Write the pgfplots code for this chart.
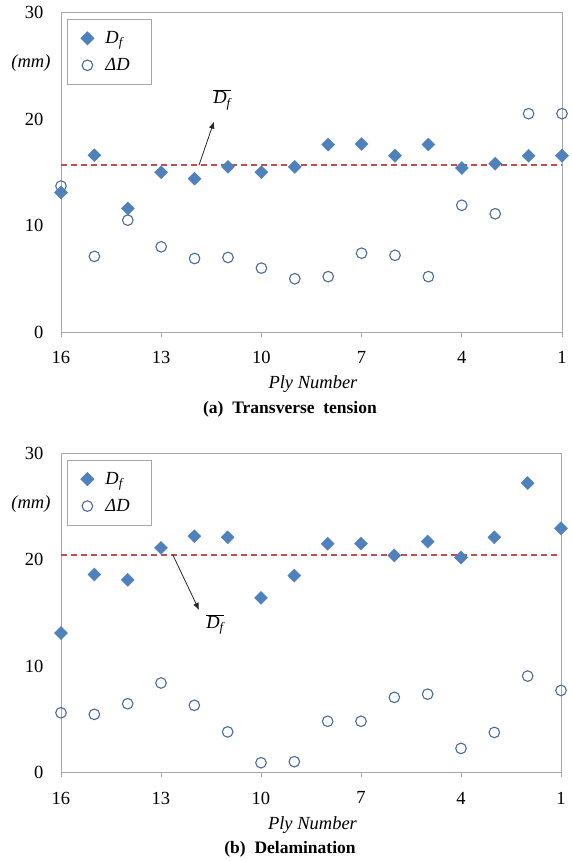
\documentclass[border=0pt]{standalone}
\usepackage{fontspec}
\setmainfont{Liberation Serif}
\usepackage{pgfplots}
\pgfplotsset{compat=1.18}
\usepackage{pgfplotstable}
\usetikzlibrary{arrows.meta}

\definecolor{dfblue}{HTML}{4F81BD}
\definecolor{ddblue}{HTML}{4A6A9C}
\definecolor{meanred}{HTML}{C0504D}
\definecolor{framegray}{HTML}{A6A6A6}

\newcommand{\fs}{\fontsize{18.5pt}{21pt}\selectfont}
\newcommand{\cs}{\fontsize{17.5pt}{20pt}\selectfont}
\newcommand{\Df}{\textit{D\textsubscript{f}}}

% transverse tension
\pgfplotstableread{
ply Df dD
16 13.1 13.7
15 16.6 7.1
14 11.6 10.5
13 15.0 8.0
12 14.4 6.9
11 15.5 7.0
10 15.0 6.0
9 15.5 5.0
8 17.6 5.2
7 17.65 7.4
6 16.55 7.2
5 17.6 5.2
4 15.4 11.9
3 15.8 11.1
2 16.55 20.5
1 16.55 20.5
}\tablea

% delamination
\pgfplotstableread{
ply Df dD
16 13.1 5.6
15 18.6 5.45
14 18.1 6.45
13 21.1 8.4
12 22.2 6.3
11 22.1 3.8
10 16.4 0.9
9 18.5 1.0
8 21.5 4.8
7 21.5 4.8
6 20.4 7.05
5 21.7 7.35
4 20.2 2.25
3 22.1 3.75
2 27.2 9.05
1 22.95 7.7
}\tableb

\pgfplotsset{
  plyaxis/.style={
    scale only axis,
    x dir=reverse, xmin=1, xmax=16, ymin=0, ymax=30,
    xtick={16,13,10,7,4,1}, ytick={0,10,20,30},
    axis line style={framegray, line width=0.8pt},
    tick align=outside, xtick pos=bottom, ytick pos=left,
    ytick style={draw=none},
    xtick style={framegray, line width=0.8pt},
    major tick length=5pt,
    /pgf/number format/assume math mode=true,
    tick label style={font=\fs},
    xticklabel style={yshift=-11pt},
    yticklabel style={xshift=-9pt},
    clip=false,
    legend cell align=left,
    legend style={at={(rel axis cs:0.012,0.98)}, anchor=north west,
      draw=framegray, line width=0.8pt, font=\fs, inner xsep=2pt, inner ysep=8pt,
      row sep=5pt},
    legend image code/.code={
      \path[draw=none, fill=none] (-18pt,-11pt) rectangle (16pt,11pt);
      \draw plot coordinates {(0pt,0pt)};},
  },
  dfmark/.style={only marks, mark=square*, mark size=4.6pt,
    mark options={rotate=45, fill=dfblue, draw=dfblue}},
  ddmark/.style={only marks, mark=o, mark size=5.3pt,
    mark options={draw=ddblue, line width=1.1pt}},
  meanline/.style={meanred, line width=2pt, dash pattern=on 6pt off 4pt},
}

\begin{document}
\begin{tikzpicture}
\path[use as bounding box] (0,0) rectangle (572pt,-861pt);

\begin{axis}[plyaxis, at={(61pt,-332pt)}, anchor=south west,
    width=501pt, height=319.5pt]
  \addlegendimage{dfmark}\addlegendentry{\Df}
  \addlegendimage{ddmark}\addlegendentry{\textit{ΔD}\hspace*{18pt}\mbox{}}
  \addplot[meanline, forget plot] coordinates {(16,15.65) (1,15.65)};
  \addplot[ddmark, forget plot] table[x=ply, y=dD] {\tablea};
  \addplot[dfmark, forget plot] table[x=ply, y=Df] {\tablea};
  \draw[-{Latex[length=7pt,width=6pt]}, black!85, line width=0.8pt]
    (axis cs:11.87,15.65) -- (axis cs:11.42,19.75);
  \node[font=\fs] at (axis cs:11.18,21.8) {$\overline{\mbox{\Df}}$};
  \node[font=\fs] at (axis description cs:-0.06,0.842) {\textit{(mm)}};
  \node[font=\fs] at (axis description cs:0.503,-0.163) {\textit{Ply Number}};
\end{axis}
\node[font=\bfseries\cs] at (290pt,-409pt) {(a)\ \ Transverse\ \ tension};

\begin{axis}[plyaxis, at={(61pt,-772.3pt)}, anchor=south west,
    width=500pt, height=319pt]
  \addlegendimage{dfmark}\addlegendentry{\Df}
  \addlegendimage{ddmark}\addlegendentry{\textit{ΔD}\hspace*{18pt}\mbox{}}
  \addplot[meanline, forget plot] coordinates {(16,20.48) (1,20.48)};
  \addplot[ddmark, forget plot] table[x=ply, y=dD] {\tableb};
  \addplot[dfmark, forget plot] table[x=ply, y=Df] {\tableb};
  \draw[-{Latex[length=7pt,width=6pt]}, black!85, line width=0.8pt]
    (axis cs:12.65,20.48) -- (axis cs:11.86,15.27);
  \node[font=\fs] at (axis cs:11.38,13.9) {$\overline{\mbox{\Df}}$};
  \node[font=\fs] at (axis description cs:-0.06,0.841) {\textit{(mm)}};
  \node[font=\fs] at (axis description cs:0.503,-0.165) {\textit{Ply Number}};
\end{axis}
\node[font=\bfseries\cs] at (290pt,-849pt) {(b)\ \ Delamination};
\end{tikzpicture}
\end{document}
